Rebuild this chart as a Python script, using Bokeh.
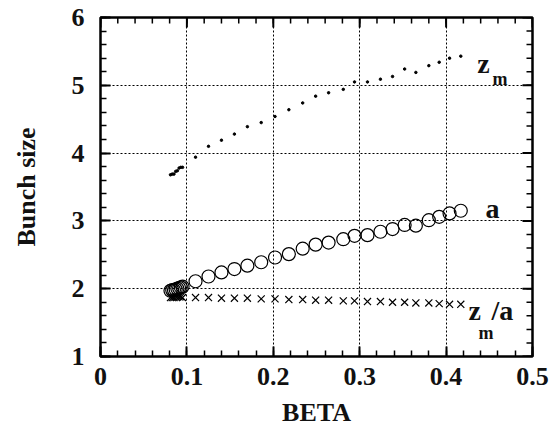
import numpy as np
from bokeh.plotting import figure
from bokeh.models import Range1d, FixedTicker, Label
from bokeh.embed import file_html
from bokeh.resources import INLINE

# ---- data ----
beta = [0.110, 0.125, 0.140, 0.155, 0.170, 0.186, 0.202, 0.218, 0.234, 0.249, 0.264,
        0.281, 0.294, 0.309, 0.324, 0.338, 0.352, 0.365, 0.380, 0.392, 0.404, 0.417]
z_m = [3.94, 4.10, 4.19, 4.28, 4.39, 4.45, 4.54, 4.64, 4.74, 4.84, 4.89,
       4.94, 5.05, 5.05, 5.09, 5.13, 5.24, 5.19, 5.29, 5.34, 5.40, 5.43]
a_size = [2.11, 2.18, 2.24, 2.29, 2.34, 2.39, 2.46, 2.51, 2.59, 2.65, 2.68,
          2.73, 2.78, 2.79, 2.84, 2.88, 2.94, 2.93, 3.01, 3.06, 3.11, 3.15]
zm_over_a = [1.87, 1.87, 1.86, 1.86, 1.86, 1.85, 1.85, 1.84, 1.84, 1.83, 1.83,
             1.82, 1.82, 1.81, 1.81, 1.80, 1.80, 1.79, 1.79, 1.78, 1.77, 1.77]

# dense cluster at small beta
beta_c = [0.081, 0.083, 0.085, 0.087, 0.089, 0.091, 0.093, 0.095]
z_m_c = [3.68, 3.69, 3.69, 3.73, 3.74, 3.78, 3.79, 3.79]
a_c = [1.97, 1.98, 1.98, 1.99, 2.00, 2.01, 2.02, 2.03]
zm_over_a_c = [1.87, 1.87, 1.87, 1.88, 1.88, 1.88, 1.88, 1.87]

x_ticks = [0, 0.1, 0.2, 0.3, 0.4, 0.5]
x_tick_labels = ["0", "0.1", "0.2", "0.3", "0.4", "0.5"]
y_ticks = [1, 2, 3, 4, 5, 6]
y_tick_labels = ["1", "2", "3", "4", "5", "6"]

FONT = "Liberation Serif"
INK = "#111111"
X0, X1, Y0, Y1 = 0, 0.5, 1, 6

p = figure(width=550, height=437, output_backend="svg", toolbar_location=None,
           x_range=Range1d(X0, X1), y_range=Range1d(Y0, Y1),
           min_border_left=100, min_border_right=18, min_border_top=17, min_border_bottom=81)
p.outline_line_color = "black"
p.outline_line_width = 2.5

x_minor = list(np.round(np.arange(X0, X1 + 1e-9, 0.02), 3))
y_minor = list(np.round(np.arange(Y0, Y1 + 1e-9, 0.2), 3))
xt = FixedTicker(ticks=x_ticks, minor_ticks=x_minor)
yt = FixedTicker(ticks=y_ticks, minor_ticks=y_minor)

for ax, ticker, labels in ((p.xaxis[0], xt, x_tick_labels), (p.yaxis[0], yt, y_tick_labels)):
    ax.ticker = ticker
    ax.axis_line_color = None
    ax.major_tick_in = 10
    ax.major_tick_out = 0
    ax.minor_tick_in = 6
    ax.minor_tick_out = 0
    ax.major_tick_line_width = 2
    ax.minor_tick_line_width = 1.5
    ax.major_tick_line_color = "black"
    ax.minor_tick_line_color = "black"
    ax.major_label_overrides = dict(zip(ticker.ticks, labels))
    ax.major_label_text_font = FONT
    ax.major_label_text_font_style = "bold"
    ax.major_label_text_font_size = "26px"
    ax.major_label_text_color = INK
    ax.axis_label_text_font = FONT
    ax.axis_label_text_font_style = "bold"
    ax.axis_label_text_font_size = "26px"
    ax.axis_label_text_color = INK

p.xaxis[0].axis_label = "BETA"
p.yaxis[0].axis_label = "Bunch size"
p.xaxis[0].major_label_standoff = 11
p.yaxis[0].major_label_standoff = 16
p.xaxis[0].axis_label_standoff = 10
p.yaxis[0].axis_label_standoff = 28

# inward ticks on the top and right edges (frame is 432 x 339 px)
px_x = (X1 - X0) / 432.0
px_y = (Y1 - Y0) / 339.0
for vals, ln, w in ((x_ticks, 10, 2), (x_minor, 6, 1.5)):
    p.segment(x0=vals, y0=[Y1] * len(vals), x1=vals, y1=[Y1 - ln * px_y] * len(vals),
              line_color="black", line_width=w)
for vals, ln, w in ((y_ticks, 10, 2), (y_minor, 6, 1.5)):
    p.segment(x0=[X1] * len(vals), y0=vals, x1=[X1 - ln * px_x] * len(vals), y1=vals,
              line_color="black", line_width=w)

p.xgrid.ticker = xt
p.ygrid.ticker = yt
for g in (p.xgrid, p.ygrid):
    g.grid_line_color = "black"
    g.grid_line_dash = "2 2"
    g.grid_line_width = 1

# series
p.scatter(beta + beta_c, z_m + z_m_c, marker="circle", size=2.5,
          fill_color="black", line_color="black")
p.scatter(beta + beta_c, a_size + a_c, marker="circle", size=13,
          fill_color=None, line_color="black", line_width=1.2)
p.scatter(beta + beta_c, zm_over_a + zm_over_a_c, marker="x", size=10,
          line_color="black", line_width=1.2)

def lab(x, y, t, size):
    p.add_layout(Label(x=x, y=y, text=t, text_font=FONT, text_font_style="bold",
                       text_font_size=size, text_color=INK, text_baseline="alphabetic"))

lab(0.436, 5.32, "z", "28px")
lab(0.4537, 5.10, "m", "18px")
lab(0.4456, 3.18, "a", "28px")
lab(0.426, 1.68, "z", "28px")
lab(0.4375, 1.35, "m", "18px")
lab(0.4525, 1.68, "/a", "28px")

open("out.html", "w").write(file_html(p, INLINE))
